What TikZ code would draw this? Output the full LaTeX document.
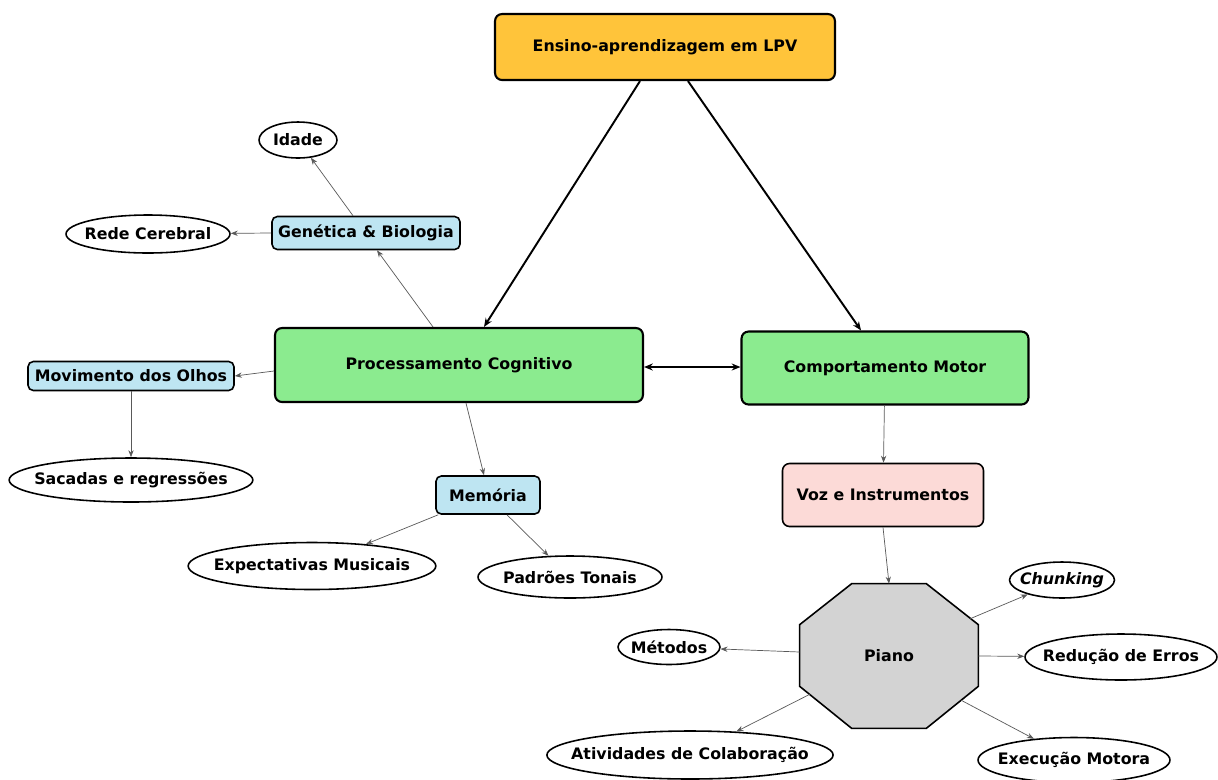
\documentclass[tikz,border=0pt]{standalone}
\usepackage{fontspec}
\setmainfont{DejaVu Sans}
\usetikzlibrary{arrows.meta}
\usetikzlibrary{shapes}
\usetikzlibrary{backgrounds}

\definecolor{lpvorange}{HTML}{FFC43A}
\definecolor{boxgreen}{HTML}{8BEB8F}
\definecolor{boxblue}{HTML}{BEE5F2}
\definecolor{vozpink}{HTML}{FCDAD7}
\definecolor{pianogray}{HTML}{D3D3D3}

\tikzset{
    mainbox/.style={draw, line width=1.2pt, rounded corners=4pt, font=\bfseries\fontsize{9}{11}\selectfont},
    subbox/.style={draw, line width=0.9pt, rounded corners=3pt, fill=boxblue, inner sep=1pt, font=\bfseries\fontsize{9}{11}\selectfont},
    leaf/.style={draw, ellipse, line width=0.9pt, fill=white, inner ysep=0pt, inner xsep=-6pt, font=\bfseries\fontsize{9}{11}\selectfont},
    link/.style={-{Stealth[length=4pt,width=3pt]}, draw=black!65, line width=0.4pt},
    bigarrow/.style={-{Stealth[length=5pt,width=4pt]}, line width=1.1pt},
}

\begin{document}
\begin{tikzpicture}[x=0.02cm, y=-0.02cm]
    \useasboundingbox (0,0) rectangle (1218,779);

    \node[mainbox, fill=lpvorange, minimum width=6.8cm, minimum height=1.32cm] (lpv) at (665,47) {Ensino-aprendizagem em LPV};
    \node[mainbox, fill=boxgreen, minimum width=7.36cm, minimum height=1.48cm] (pc) at (459,365) {Processamento Cognitivo};
    \node[mainbox, fill=boxgreen, minimum width=5.74cm, minimum height=1.46cm] (cm) at (885,368) {Comportamento Motor};

    \node[subbox, minimum width=3.76cm, minimum height=0.66cm] (gen) at (366,233) {Genética \& Biologia};
    \node[leaf, minimum width=1.56cm, minimum height=0.72cm] (idade) at (298,140) {Idade};
    \node[leaf, minimum width=3.28cm, minimum height=0.76cm] (rede) at (148,234) {Rede Cerebral};
    \node[subbox, minimum width=4.12cm, minimum height=0.58cm] (olhos) at (131,376) {Movimento dos Olhos};
    \node[leaf, minimum width=4.8cm, minimum height=0.88cm] (sacadas) at (131,480) {Sacadas e regressões};
    \node[subbox, minimum width=2.08cm, minimum height=0.76cm] (memoria) at (488,495) {Memória};
    \node[leaf, minimum width=4.88cm, minimum height=0.94cm] (expect) at (312,566) {Expectativas Musicais};
    \node[leaf, minimum width=3.68cm, minimum height=0.84cm] (padroes) at (570,577) {Padrões Tonais};

    \node[mainbox, fill=vozpink, line width=0.9pt, minimum width=4.02cm, minimum height=1.26cm] (voz) at (883,495) {Voz e Instrumentos};
    \node[font=\bfseries\fontsize{9}{11}\selectfont, inner sep=0pt, minimum width=3.56cm, minimum height=2.88cm] (piano) at (889,656) {Piano};
    \node[leaf, minimum width=2.1cm, minimum height=0.72cm] (chunking) at (1062,580) {\itshape Chunking};
    \node[leaf, minimum width=3.84cm, minimum height=0.92cm] (reducao) at (1121,657) {Redução de Erros};
    \node[leaf, minimum width=3.84cm, minimum height=0.9cm] (execucao) at (1074,760) {Execução Motora};
    \node[leaf, minimum width=2.04cm, minimum height=0.7cm] (metodos) at (669,647) {Métodos};
    \node[leaf, inner xsep=-10pt, minimum width=5.7cm, minimum height=0.96cm] (ativ) at (690,755) {Atividades de Colaboração};

    \begin{scope}[on background layer]
        \draw[line width=0.9pt, fill=pianogray]
            ([xshift=1.04cm]piano.north west) -- ([xshift=-1.04cm]piano.north east)
            -- ([yshift=-0.82cm]piano.north east) -- ([yshift=0.84cm]piano.south east)
            -- ([xshift=-1.04cm]piano.south east) -- ([xshift=1.04cm]piano.south west)
            -- ([yshift=0.84cm]piano.south west) -- ([yshift=-0.82cm]piano.north west) -- cycle;
    \end{scope}

    \draw[bigarrow] ([xshift=-0.5cm]lpv.south) -- ([xshift=0.5cm]pc.north);
    \draw[bigarrow] ([xshift=0.46cm]lpv.south) -- ([xshift=-0.48cm]cm.north);
    \draw[bigarrow, {Stealth[length=5pt,width=4pt]}-{Stealth[length=5pt,width=4pt]}] ([yshift=-0.04cm]pc.east) -- ([yshift=-0.04cm]pc.east -| cm.west);

    \draw[link] ([xshift=-0.52cm]pc.north) -- ([xshift=0.22cm]gen.south);
    \draw[link] ([xshift=-0.26cm]gen.north) -- (idade);
    \draw[link] (gen.west) -- (rede);
    \draw[link] ([yshift=-0.12cm]pc.west) -- (olhos.east);
    \draw[link] (olhos) -- (sacadas);
    \draw[link] ([xshift=0.14cm]pc.south) -- ([xshift=-0.08cm]memoria.north);
    \draw[link] ([xshift=0.06cm]memoria.south west) -- (expect);
    \draw[link] ([xshift=0.38cm]memoria.south) -- (padroes);

    \draw[link] (cm) -- (voz);
    \draw[link] (voz.south) -- (piano.north);
    \draw[link] ([xshift=-0.16cm, yshift=-0.7cm]piano.north east) -- (chunking);
    \draw[link] (piano.east) -- (reducao);
    \draw[link] ([xshift=-0.34cm, yshift=0.56cm]piano.south east) -- (execucao);
    \draw[link] ([yshift=0.08cm]piano.west) -- (metodos);
    \draw[link] ([xshift=0.2cm, yshift=0.68cm]piano.south west) -- (ativ);
\end{tikzpicture}
\end{document}
